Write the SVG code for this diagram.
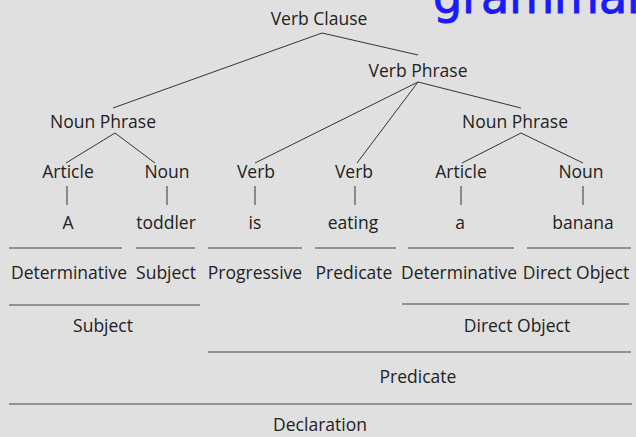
<svg xmlns="http://www.w3.org/2000/svg" width="636" height="437" viewBox="0 0 636 437">
<style>
text{font-family:"Open Sans","DejaVu Sans",sans-serif;font-size:17.5px;fill:#222;text-anchor:middle}
.title{font-family:"DejaVu Sans",sans-serif;font-size:46px;fill:#1a1aff;stroke:#1a1aff;stroke-width:1;text-anchor:start}
.c{stroke:#333;stroke-width:1;fill:none}
.u{stroke:#444;stroke-width:1.2;fill:none}
</style>
<rect width="636" height="437" fill="#e0e0e0"/>
<text class="title" x="433" y="13">grammar</text>
<g id="connectors">
<path class="c" d="M322 33L113 108M322 33L418 55"/>
<path class="c" d="M418 82L255 163M418 82L357 163M418 82L521 108"/>
<path class="c" d="M115 133L66 163M115 133L155 163"/>
<path class="c" d="M521 133L462 163M521 133L583 163"/>
<path class="c" d="M67 186V205M167 186V205M255 186V205M355 186V205M461 186V205M583 186V205"/>
</g>
<g id="underlines">
<path class="u" d="M9 248H122M136 248H195M208 248H302M315 248H396M408 248H514M527 248H631"/>
<path class="u" d="M9 305H200M402 304H629M208 352H631"/>
<path class="u" stroke-width="1.6" d="M9 404H632"/>
</g>
<g id="verb-clause"><text x="319" y="25">Verb Clause</text></g>
<g id="verb-phrase"><text x="418" y="77">Verb Phrase</text></g>
<g id="noun-phrase-1"><text x="103" y="128">Noun Phrase</text></g>
<g id="noun-phrase-2"><text x="515" y="128">Noun Phrase</text></g>
<g id="article-1"><text x="68" y="178">Article</text></g>
<g id="noun-1"><text x="167" y="178">Noun</text></g>
<g id="verb-1"><text x="256" y="178">Verb</text></g>
<g id="verb-2"><text x="354" y="178">Verb</text></g>
<g id="article-2"><text x="461" y="178">Article</text></g>
<g id="noun-2"><text x="581" y="178">Noun</text></g>
<g id="word-A"><text x="68" y="229">A</text></g>
<g id="word-toddler"><text x="166" y="229">toddler</text></g>
<g id="word-is"><text x="255" y="229">is</text></g>
<g id="word-eating"><text x="353" y="229">eating</text></g>
<g id="word-a"><text x="460" y="229">a</text></g>
<g id="word-banana"><text x="583" y="229">banana</text></g>
<g id="role-determinative-1"><text x="69" y="279">Determinative</text></g>
<g id="role-subject"><text x="166" y="279">Subject</text></g>
<g id="role-progressive"><text x="255" y="279">Progressive</text></g>
<g id="role-predicate"><text x="354" y="279">Predicate</text></g>
<g id="role-determinative-2"><text x="459" y="279">Determinative</text></g>
<g id="role-direct-object"><text x="576" y="279">Direct Object</text></g>
<g id="subject"><text x="103" y="332">Subject</text></g>
<g id="direct-object"><text x="517" y="332">Direct Object</text></g>
<g id="predicate"><text x="418" y="383">Predicate</text></g>
<g id="declaration"><text x="320" y="431">Declaration</text></g>
</svg>
